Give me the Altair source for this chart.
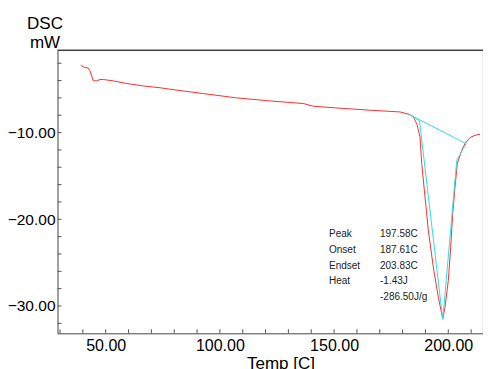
import altair as alt
import pandas as pd

# DSC curve (red)
curve_t = [39.06, 40.95, 42.26, 43.13, 44.58, 46.07, 47.51, 48.96, 53.34, 59.2, 66.47, 73.78,
           78.16, 92.74, 107.36, 121.94, 136.52, 140.9, 151.15, 165.73, 178.86, 183.24, 184.68,
           186.17, 187.62, 188.37, 189.81, 191.26, 193.44, 195.63, 197.12, 197.58, 198.56,
           200.01, 201.06, 201.93, 202.94, 203.95, 205.88, 207.33, 209.5, 211.7, 213.9]
curve_v = [-2.23, -2.52, -2.54, -2.89, -4.02, -4.04, -3.88, -3.88, -4.04, -4.34, -4.62, -4.83,
           -5.0, -5.5, -6.0, -6.35, -6.65, -6.96, -7.16, -7.42, -7.62, -7.92, -8.2,
           -8.96, -10.51, -13.58, -17.44, -21.28, -25.52, -28.98, -30.9, -31.48, -30.14,
           -27.06, -23.21, -19.35, -16.28, -13.58, -12.04, -11.27, -10.58, -10.31, -10.2]

# analysis lines (cyan)
base_t = [182.9, 207.77]
base_v = [-7.92, -11.27]
tan_t = [182.9, 187.4, 197.58, 203.7, 207.77]
tan_v = [-7.92, -8.64, -31.56, -13.2, -11.27]

x_ticks = [30, 40, 50, 60, 70, 80, 90, 100, 110, 120, 130, 140, 150, 160, 170, 180, 190, 200, 210]
y_ticks = [-2, -4, -6, -8, -10, -12, -14, -16, -18, -20, -22, -24, -26, -28, -30, -32]
x_labels = [50, 100, 150, 200]
y_labels = [-10, -20, -30]

ann_names = ["Peak", "Onset", "Endset", "Heat", ""]
ann_values = ["197.58C", "187.61C", "203.83C", "-1.43J", "-286.50J/g"]

W, H = 425, 283
XD = [28.9, 28.9 + W / 2.284]
YD = [-33.15, -0.51]
FONT = "Liberation Sans"

xs = alt.Scale(domain=XD, nice=False, zero=False)
ys = alt.Scale(domain=YD, nice=False, zero=False)

df_curve = pd.DataFrame({"t": curve_t, "v": curve_v})
df_base = pd.DataFrame({"t": base_t, "v": base_v})
df_tan = pd.DataFrame({"t": tan_t, "v": tan_v, "i": list(range(len(tan_t)))})

x_axis = alt.Axis(values=x_labels, format=".2f", grid=False, ticks=False, tickSize=0,
                  domainColor="#555", labelFont=FONT, labelFontSize=16, labelColor="#000",
                  labelPadding=17, labelBaseline="alphabetic",
                  title="Temp  [C]", titleFont=FONT, titleFontSize=17, titleFontWeight="normal",
                  titleColor="#000", titleX=223, titleY=34.8, titleAlign="center",
                  titleBaseline="alphabetic")
y_axis = alt.Axis(values=y_labels, format=".2f", grid=False, ticks=False, tickSize=0,
                  domainColor="#555", labelFont=FONT, labelFontSize=15.5, labelColor="#000",
                  labelPadding=2.5,
                  title=["DSC", "mW"], titleFont=FONT, titleFontSize=17, titleFontWeight="normal",
                  titleColor="#000", titleAngle=0, titleX=-13, titleY=-21.5,
                  titleAlign="center", titleBaseline="alphabetic", titleLineHeight=18.5)

red = alt.Chart(df_curve).mark_line(color="#ff3030", strokeWidth=1).encode(
    x=alt.X("t:Q", scale=xs, axis=x_axis),
    y=alt.Y("v:Q", scale=ys, axis=y_axis),
)
base = alt.Chart(df_base).mark_line(color="#30e0e0", strokeWidth=1).encode(
    x=alt.X("t:Q", scale=xs), y=alt.Y("v:Q", scale=ys, axis=None))
tan = alt.Chart(df_tan).mark_line(color="#30e0e0", strokeWidth=1).encode(
    x=alt.X("t:Q", scale=xs), y=alt.Y("v:Q", scale=ys, axis=None), order="i:Q")

xt = alt.Chart(pd.DataFrame({"t": x_ticks})).mark_rule(color="#555").encode(
    x=alt.X("t:Q", scale=xs), y=alt.value(H), y2=alt.value(H - 4))
yt = alt.Chart(pd.DataFrame({"v": y_ticks})).mark_rule(color="#555").encode(
    y=alt.Y("v:Q", scale=ys, axis=None), x=alt.value(0), x2=alt.value(4))
top = alt.Chart(pd.DataFrame({"a": [0]})).mark_rule(color="#444", strokeWidth=1.5).encode(
    x=alt.value(0), x2=alt.value(W + 10), y=alt.value(0))

ann = pd.DataFrame({"name": ann_names, "val": ann_values, "row": list(range(len(ann_names)))})
ann_y = alt.Y("row:Q", scale=alt.Scale(domain=[0, 4], range=[183.7, 247]), axis=None)
t1 = alt.Chart(ann).mark_text(align="left", baseline="middle", font=FONT, fontSize=10,
                              color="#222").encode(x=alt.value(271.5), y=ann_y, text="name:N")
t2 = alt.Chart(ann).mark_text(align="left", baseline="middle", font=FONT, fontSize=10,
                              color="#222").encode(x=alt.value(322.5), y=ann_y, text="val:N")

chart = alt.layer(red, base, tan, xt, yt, top, t1, t2).resolve_scale(y="independent").properties(
    width=W, height=H,
    autosize=alt.AutoSizeParams(type="none"),
    padding={"left": 49.5, "top": 42.3, "right": 0, "bottom": 35.7},
).configure_view(stroke=None).configure(background="white")

chart.save("out.html", embed_options={"renderer": "svg", "actions": False})
